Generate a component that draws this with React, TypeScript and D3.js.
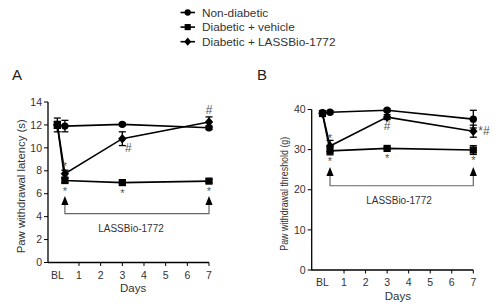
import React from "react";
import * as d3 from "d3";

// ---- data ----
const days = [0, 0.35, 3, 7];
const tickDays = [0, 1, 2, 3, 4, 5, 6, 7];
const tickLabels = ["BL", "1", "2", "3", "4", "5", "6", "7"];
const seriesNames = ["Non-diabetic", "Diabetic + vehicle", "Diabetic + LASSBio-1772"];
const seriesShapes = ["circle", "square", "diamond"];

const latencyNonDiabetic = [12.0, 11.9, 12.05, 11.75];
const latencyNonDiabeticErr = [0.6, 0.5, 0.12, 0.15];
const latencyVehicle = [12.0, 7.15, 6.97, 7.1];
const latencyVehicleErr = [0.3, 0.2, 0.1, 0.15];
const latencyLassbio = [12.0, 7.75, 10.8, 12.25];
const latencyLassbioErr = [0.3, 0.3, 0.6, 0.45];
const latencyTicks = [0, 2, 4, 6, 8, 10, 12, 14];

const thresholdNonDiabetic = [39.2, 39.3, 39.8, 37.6];
const thresholdNonDiabeticErr = [0.4, 0.4, 0.3, 2.2];
const thresholdVehicle = [39.0, 29.7, 30.3, 29.9];
const thresholdVehicleErr = [0.4, 1.0, 0.3, 1.1];
const thresholdLassbio = [39.0, 30.9, 38.1, 34.6];
const thresholdLassbioErr = [0.4, 1.4, 0.6, 1.5];
const thresholdTicks = [0, 10, 20, 30, 40];

// annotations: [text, series index, point index, placement]
const latencyMarks: [string, number, number, string][] = [
  ["*", 2, 1, "above"],
  ["*", 1, 1, "below"],
  ["*", 1, 2, "below"],
  ["*", 1, 3, "below"],
  ["#", 2, 2, "belowRight"],
  ["#", 2, 3, "above"],
];
const thresholdMarks: [string, number, number, string][] = [
  ["*", 2, 1, "above"],
  ["*", 1, 1, "below"],
  ["*", 1, 2, "below"],
  ["*", 1, 3, "below"],
  ["#", 2, 2, "below"],
  ["*#", 2, 3, "right"],
];

const treatmentLabel = "LASSBio-1772";
const treatmentDays = [0.35, 7];

const FONT = "'Liberation Sans', Arial, Helvetica, sans-serif";

function Marker({ shape, x, y, s = 1 }: { shape: string; x: number; y: number; s?: number }) {
  if (shape === "circle") return <circle cx={x} cy={y} r={3.7 * s} fill="#000" />;
  if (shape === "square")
    return <rect x={x - 3.6 * s} y={y - 3.6 * s} width={7.2 * s} height={7.2 * s} fill="#000" />;
  return (
    <path
      d={`M${x},${y - 4.8 * s}L${x + 4.2 * s},${y}L${x},${y + 4.8 * s}L${x - 4.2 * s},${y}Z`}
      fill="#000"
    />
  );
}

type PanelProps = {
  letter: string;
  letterX: number;
  left: number;
  right: number;
  top: number;
  bottom: number;
  xMin: number;
  yMax: number;
  yTicks: number[];
  series: number[][];
  errors: number[][];
  marks: [string, number, number, string][];
  yLabel: string;
  yLabelLen: number;
  yLabelFont: number;
  bracketTip: number;
  bracketLine: number;
  bracketTextDay: number;
  tickFont: number;
};

function Panel(p: PanelProps) {
  const x = d3.scaleLinear().domain([p.xMin, 7]).range([p.left, p.right]);
  const y = d3.scaleLinear().domain([0, p.yMax]).range([p.bottom, p.top]);
  const line = d3
    .line<number>()
    .x((_, i) => x(days[i]))
    .y((v) => y(v));
  const tickColor = "#333";
  const bx0 = x(treatmentDays[0]);
  const bx1 = x(treatmentDays[1]);
  const tipY = y(p.bracketTip);
  const lineY = y(p.bracketLine);
  const triH = 9;
  const triW = 3.6;
  return (
    <g fontFamily={FONT}>
      <text x={p.letterX} y={80} fontSize={15} fill="#222">
        {p.letter}
      </text>
      {/* axes */}
      <line x1={p.left} x2={p.left} y1={y(0) + 0.5} y2={y(p.yMax)} stroke="#000" strokeWidth={1.3} />
      <line x1={p.left} x2={p.right} y1={y(0)} y2={y(0)} stroke="#000" strokeWidth={1.3} />
      {p.yTicks.map((t) => (
        <g key={"yt" + t}>
          <line x1={p.left - 4} x2={p.left} y1={y(t)} y2={y(t)} stroke="#000" strokeWidth={1} />
          <text x={p.left - 6} y={y(t)} dy="0.35em" textAnchor="end" fontSize={p.tickFont} fill={tickColor}>
            {t}
          </text>
        </g>
      ))}
      {tickDays.map((d, i) => (
        <g key={"xt" + d}>
          {d > 0 && <line x1={x(d)} x2={x(d)} y1={y(0)} y2={y(0) + 3.5} stroke="#000" strokeWidth={1} />}
          <text x={x(d)} y={y(0) + 12.5} dy="0.35em" textAnchor="middle" fontSize={p.tickFont} fill={tickColor}>
            {tickLabels[i]}
          </text>
        </g>
      ))}
      <text
        x={(x(0) + x(7)) / 2}
        y={y(0) + 25.5}
        dy="0.35em"
        textAnchor="middle"
        fontSize={11.5}
        fill={tickColor}
      >
        Days
      </text>
      <text
        transform={`translate(${p.left - 27},${(y(0) + y(p.yMax)) / 2 + 4}) rotate(-90)`}
        textAnchor="middle"
        dy="0.35em"
        fontSize={p.yLabelFont}
        fill={tickColor}
        textLength={p.yLabelLen}
        lengthAdjust="spacingAndGlyphs"
      >
        {p.yLabel}
      </text>
      {/* bracket */}
      <path
        d={`M${bx0},${tipY + triH}V${lineY}H${bx1}V${tipY + triH}`}
        fill="none"
        stroke="#666"
        strokeWidth={1.2}
      />
      {[bx0, bx1].map((bx, i) => (
        <path
          key={"tri" + i}
          d={`M${bx},${tipY}L${bx + triW},${tipY + triH}L${bx - triW},${tipY + triH}Z`}
          fill="#000"
        />
      ))}
      <text
        x={x(p.bracketTextDay)}
        y={lineY + 14.5}
        dy="0.35em"
        textAnchor="middle"
        fontSize={10}
        fill={tickColor}
      >
        {treatmentLabel}
      </text>
      {/* series lines */}
      {p.series.map((s, si) => (
        <path key={"l" + si} d={line(s) || ""} fill="none" stroke="#000" strokeWidth={1.6} />
      ))}
      {/* error bars */}
      {p.series.map((s, si) =>
        s.map((v, i) => {
          const e = p.errors[si][i];
          const cx = x(days[i]);
          return (
            <g key={"e" + si + "-" + i} stroke="#000" strokeWidth={1.3}>
              <line x1={cx} x2={cx} y1={y(v - e)} y2={y(v + e)} />
              <line x1={cx - 3.5} x2={cx + 3.5} y1={y(v + e)} y2={y(v + e)} />
              <line x1={cx - 3.5} x2={cx + 3.5} y1={y(v - e)} y2={y(v - e)} />
            </g>
          );
        })
      )}
      {/* markers */}
      {p.series.map((s, si) =>
        s.map((v, i) => <Marker key={"m" + si + "-" + i} shape={seriesShapes[si]} x={x(days[i])} y={y(v)} />)
      )}
      {/* significance marks */}
      {p.marks.map(([txt, si, i, place], k) => {
        const px = x(days[i]);
        const py = y(p.series[si][i]);
        let tx = px;
        let ty = py;
        let anchor = "middle";
        if (place === "above") ty = py - (txt === "#" ? 12.5 : 9.5);
        if (place === "below") ty = py + (txt === "#" ? 9 : 8.5);
        if (place === "belowRight") {
          tx = px + 6;
          ty = py + 9;
        }
        if (place === "right") {
          tx = px + 5;
          ty = py;
          anchor = "start";
        }
        const isStar = txt === "*";
        return (
          <text
            key={"s" + k}
            x={tx}
            y={ty + (isStar ? 5.5 : 4)}
            textAnchor={anchor}
            fontSize={isStar ? 11 : 12}
            fill="#555"
          >
            {txt}
          </text>
        );
      })}
    </g>
  );
}

export default function App() {
  return (
    <svg
      width={500}
      height={308}
      style={{ position: "absolute", left: 0, top: 0, background: "#fff" }}
    >
      <rect width={500} height={308} fill="#fff" />
      {/* legend */}
      <g fontFamily={FONT}>
        {seriesNames.map((n, i) => {
          const ly = 12.5 + i * 14.6;
          return (
            <g key={n}>
              <line x1={180.5} x2={195} y1={ly} y2={ly} stroke="#000" strokeWidth={1.6} />
              <Marker shape={seriesShapes[i]} x={187.7} y={ly} s={0.85} />
              <text x={202} y={ly} dy="0.36em" fontSize={11.8} fill="#333">
                {n}
              </text>
            </g>
          );
        })}
      </g>
      <Panel
        letter="A"
        letterX={12}
        left={48}
        right={209}
        top={102}
        bottom={262.5}
        xMin={-0.43}
        yMax={14}
        yTicks={latencyTicks}
        series={[latencyNonDiabetic, latencyVehicle, latencyLassbio]}
        errors={[latencyNonDiabeticErr, latencyVehicleErr, latencyLassbioErr]}
        marks={latencyMarks}
        yLabel="Paw withdrawal latency (s)"
        yLabelLen={134}
        yLabelFont={11}
        bracketTip={5.8}
        bracketLine={4.27}
        bracketTextDay={3.4}
        tickFont={10.5}
      />
      <Panel
        letter="B"
        letterX={257}
        left={311.7}
        right={473.3}
        top={109.5}
        bottom={270}
        xMin={-0.5}
        yMax={40}
        yTicks={thresholdTicks}
        series={[thresholdNonDiabetic, thresholdVehicle, thresholdLassbio]}
        errors={[thresholdNonDiabeticErr, thresholdVehicleErr, thresholdLassbioErr]}
        marks={thresholdMarks}
        yLabel="Paw withdrawal threshold (g)"
        yLabelLen={114}
        yLabelFont={10}
        bracketTip={25.7}
        bracketLine={21}
        bracketTextDay={3.55}
        tickFont={10.5}
      />
    </svg>
  );
}
